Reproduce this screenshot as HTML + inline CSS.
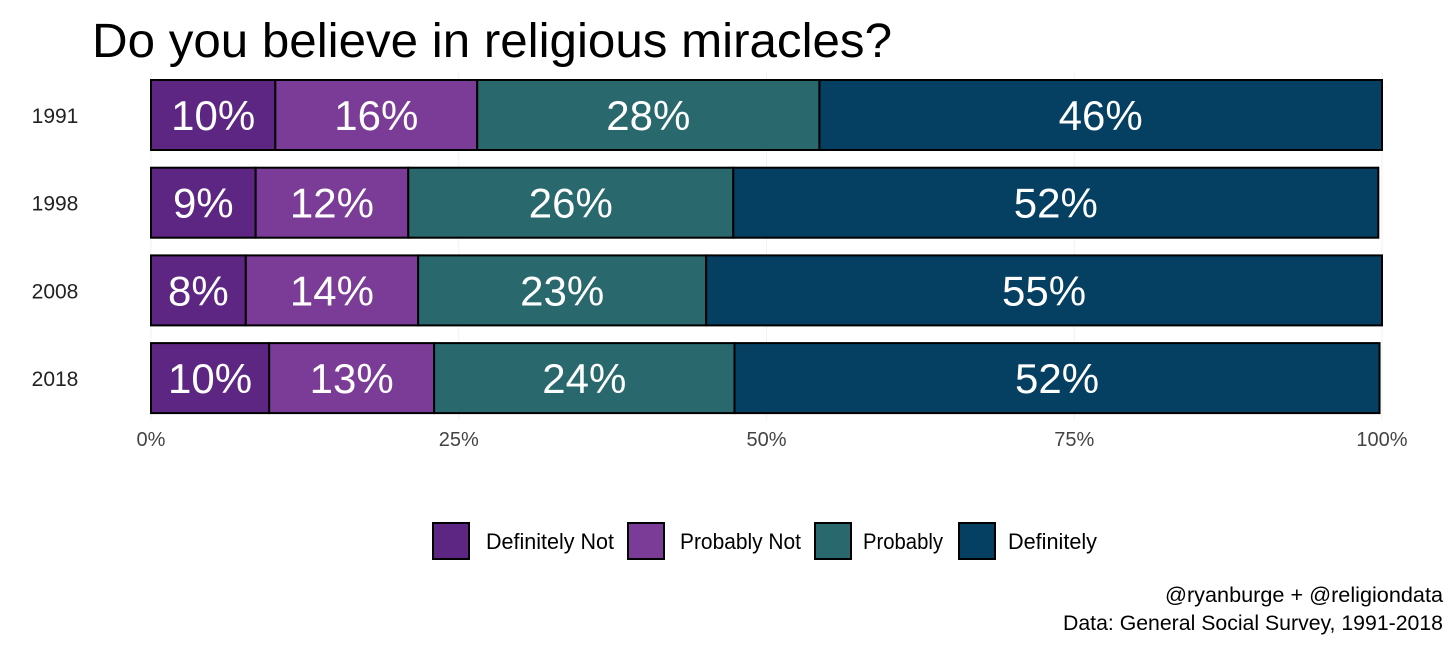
<!DOCTYPE html>
<html><head><meta charset="utf-8">
<style>
body{margin:0;background:#fff;width:1456px;height:647px;overflow:hidden}
svg text{font-family:"Liberation Sans Narrow","Liberation Sans",sans-serif}
</style></head><body>
<svg id="chart" width="1456" height="647" viewBox="0 0 1456 647">
<text x="92" y="57" font-size="48" fill="#000" textLength="800" lengthAdjust="spacingAndGlyphs">Do you believe in religious miracles?</text>
<g id="grid"></g><g id="bars"></g><g id="axes"></g>
<g>
<rect x="433" y="523" width="36" height="36" fill="#5d2682" stroke="#000" stroke-width="2"/>
<text x="486" y="549" font-size="22" textLength="128" lengthAdjust="spacingAndGlyphs">Definitely Not</text>
<rect x="628" y="523" width="36" height="36" fill="#7b3c97" stroke="#000" stroke-width="2"/>
<text x="680" y="549" font-size="22" textLength="121" lengthAdjust="spacingAndGlyphs">Probably Not</text>
<rect x="815" y="523" width="36" height="36" fill="#29686d" stroke="#000" stroke-width="2"/>
<text x="863" y="549" font-size="22" textLength="80" lengthAdjust="spacingAndGlyphs">Probably</text>
<rect x="959" y="523" width="36" height="36" fill="#053f62" stroke="#000" stroke-width="2"/>
<text x="1008" y="549" font-size="22" textLength="89" lengthAdjust="spacingAndGlyphs">Definitely</text>
</g>
<text x="1443" y="602" font-size="21" text-anchor="end" textLength="278" lengthAdjust="spacingAndGlyphs">@ryanburge + @religiondata</text>
<text x="1443" y="630" font-size="21" text-anchor="end" textLength="380" lengthAdjust="spacingAndGlyphs">Data: General Social Survey, 1991-2018</text>
</svg>
<script>
const years = ["1991","1998","2008","2018"];
const definitelyNot = [10.1, 8.5, 7.7, 9.6];
const probablyNot = [16.4, 12.4, 14.0, 13.4];
const probably = [27.8, 26.4, 23.4, 24.4];
const definitely = [45.7, 52.4, 54.9, 52.4];
const ticks = [0, 25, 50, 75, 100];
const tickLabels = ["0%","25%","50%","75%","100%"];

const NS="http://www.w3.org/2000/svg";
const x0=151, x1=1382;
const xs=v=>x0+(x1-x0)*v/100;
const rowY=i=>80+i*87.7;
const bh=70;
const series=[definitelyNot,probablyNot,probably,definitely];
const names=["definitely-not","probably-not","probably","definitely"];
const colors=["#5d2682","#7b3c97","#29686d","#053f62"];
const grid=document.getElementById('grid'),bars=document.getElementById('bars'),axes=document.getElementById('axes');
function mk(t,a,p){const e=document.createElementNS(NS,t);for(const k in a)e.setAttribute(k,a[k]);p.appendChild(e);return e;}
ticks.forEach((t,i)=>{
  const l=mk('line',{x1:xs(t),x2:xs(t),y1:72,y2:420,stroke:'#f2f2f2','stroke-width':1},grid);
  
  
  const tx=mk('text',{x:xs(t),y:446,'font-size':20,fill:'#444','text-anchor':'middle'},axes);
  tx.textContent=tickLabels[i];
  
  
});
years.forEach((yr,i)=>{
  const y=rowY(i);
  const yl=mk('text',{x:55,y:y+bh/2+8,'font-size':21,fill:'#222','text-anchor':'middle'},axes);
  yl.textContent=yr;
  
  
  let cum=0;
  series.forEach((s,j)=>{
    const v=s[i];
    const r=mk('rect',{x:xs(cum),y:y,width:xs(cum+v)-xs(cum),height:bh,fill:colors[j],stroke:'#000','stroke-width':2},bars);
    
    
    const t=mk('text',{x:(xs(cum)+xs(cum+v))/2,y:y+bh/2+15,'font-size':42,fill:'#fff','text-anchor':'middle'},bars);
    t.textContent=Math.round(v)+'%';
    
    
    cum+=v;
  });
});
</script>
</body></html>
